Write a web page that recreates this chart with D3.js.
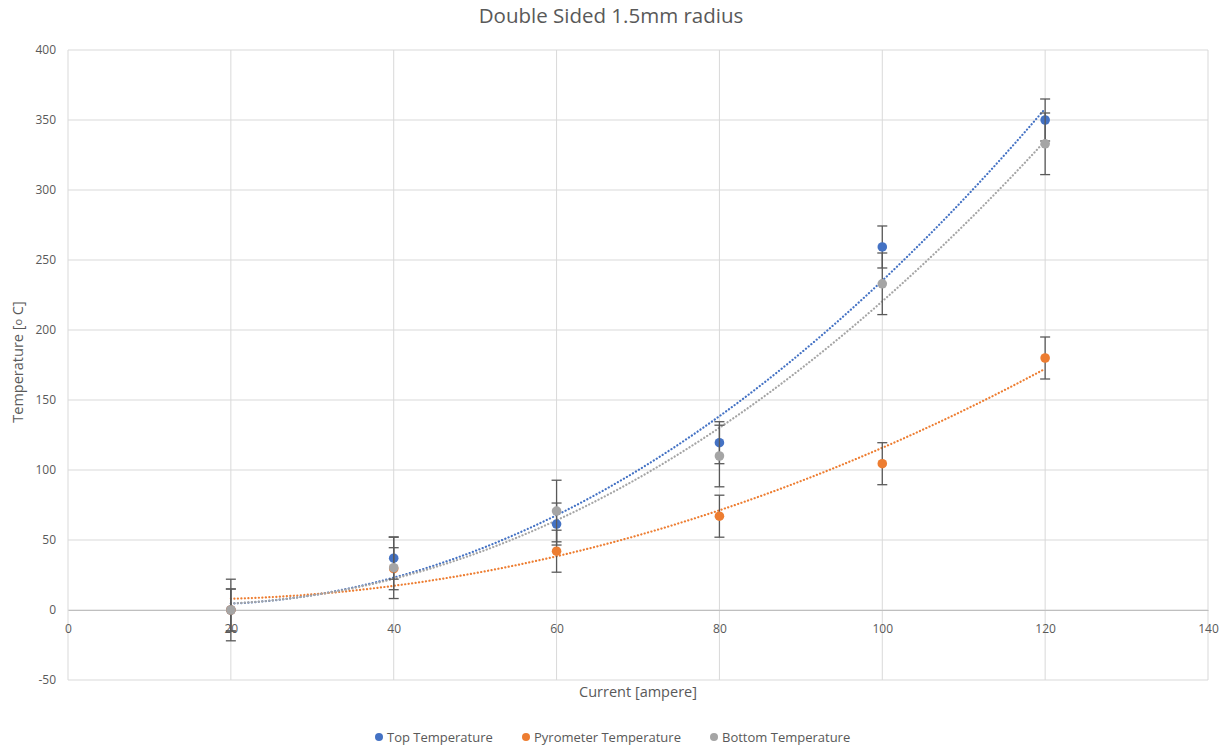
<!DOCTYPE html>
<html>
<head>
<meta charset="utf-8">
<script src="https://cdn.jsdelivr.net/npm/d3@7"></script>
<style>
  html, body { margin: 0; padding: 0; background: #fff; }
  svg { display: block; font-family: "Open Sans", Lato, sans-serif; }
</style>
</head>
<body>
<svg id="chart" width="1225" height="749"></svg>
<script>
// Current steps (A) and measured temperatures (°C)
const currents = [20, 40, 60, 80, 100, 120];
const topTemp = [0, 37, 61.4, 119.5, 259.3, 350];
const pyroTemp = [0, 29.5, 42, 67, 104.5, 180];
const bottomTemp = [0, 30.2, 70.7, 110, 233, 333];
// Fixed error bar half-widths per series
const topErr = 15;
const pyroErr = 15;
const bottomErr = 22;

const xTicks = [0, 20, 40, 60, 80, 100, 120, 140];
const yTicks = [-50, 0, 50, 100, 150, 200, 250, 300, 350, 400];

const series = [
  { name: "Top Temperature", values: topTemp, err: topErr, color: "#4472C4" },
  { name: "Pyrometer Temperature", values: pyroTemp, err: pyroErr, color: "#ED7D31" },
  { name: "Bottom Temperature", values: bottomTemp, err: bottomErr, color: "#A5A5A5" }
];

const svg = d3.select("#chart");
const plot = { left: 68, right: 1208, top: 50, bottom: 680 };

const x = d3.scaleLinear().domain([0, 140]).range([plot.left, plot.right]);
const y = d3.scaleLinear().domain([-50, 400]).range([plot.bottom, plot.top]);

// Least-squares quadratic trendline
function quadFit(xs, ys) {
  const n = xs.length;
  let s = [0, 0, 0, 0, 0], t = [0, 0, 0];
  for (let i = 0; i < n; i++) {
    let p = 1;
    for (let k = 0; k < 5; k++) { s[k] += p; if (k < 3) t[k] += p * ys[i]; p *= xs[i]; }
  }
  const A = [[s[0], s[1], s[2], t[0]], [s[1], s[2], s[3], t[1]], [s[2], s[3], s[4], t[2]]];
  for (let c = 0; c < 3; c++) {
    for (let r = c + 1; r < 3; r++) {
      const f = A[r][c] / A[c][c];
      for (let k = c; k < 4; k++) A[r][k] -= f * A[c][k];
    }
  }
  const coef = [0, 0, 0];
  for (let r = 2; r >= 0; r--) {
    let v = A[r][3];
    for (let k = r + 1; k < 3; k++) v -= A[r][k] * coef[k];
    coef[r] = v / A[r][r];
  }
  return xv => coef[0] + coef[1] * xv + coef[2] * xv * xv;
}

// Gridlines
svg.append("g")
  .selectAll("line")
  .data(yTicks)
  .join("line")
  .attr("x1", plot.left).attr("x2", plot.right)
  .attr("y1", d => y(d)).attr("y2", d => y(d))
  .attr("stroke", "#d9d9d9").attr("stroke-width", 1);

svg.append("g")
  .selectAll("line")
  .data(xTicks)
  .join("line")
  .attr("x1", d => x(d)).attr("x2", d => x(d))
  .attr("y1", plot.top).attr("y2", plot.bottom)
  .attr("stroke", "#d9d9d9").attr("stroke-width", 1);

// Y axis labels
const yAxis = d3.axisLeft(y).tickValues(yTicks).tickSize(0).tickPadding(12).tickFormat(d => String(d));
svg.append("g")
  .attr("transform", `translate(${plot.left},0)`)
  .call(yAxis)
  .call(g => g.select(".domain").remove())
  .call(g => g.selectAll("text").attr("fill", "#595959").style("font-size", "12px").style("font-family", "'Open Sans', sans-serif"));

// X axis at y = 0
const xAxis = d3.axisBottom(x).tickValues(xTicks).tickSize(0).tickPadding(14).tickFormat(d => String(d));
svg.append("g")
  .attr("transform", `translate(0,${y(0)})`)
  .call(xAxis)
  .call(g => g.select(".domain").attr("stroke", "#bfbfbf"))
  .call(g => g.selectAll("text").attr("fill", "#595959").style("font-size", "12px").style("font-family", "'Open Sans', sans-serif"));

// Trendlines
const trendX = d3.range(20, 120.01, 0.5);
series.forEach(s => {
  const f = quadFit(currents, s.values);
  svg.append("path")
    .datum(trendX)
    .attr("fill", "none")
    .attr("stroke", s.color)
    .attr("stroke-width", 2.2)
    .attr("stroke-linecap", "round")
    .attr("stroke-dasharray", "0.1 3.4")
    .attr("d", d3.line().x(d => x(d)).y(d => y(f(d))));
});

// Error bars and points, series by series
series.forEach(s => {
  const g = svg.append("g");
  const pts = currents.map((c, i) => ({ c, v: s.values[i] }));
  g.selectAll("line.eb").data(pts).join("line")
    .attr("x1", d => x(d.c)).attr("x2", d => x(d.c))
    .attr("y1", d => y(d.v + s.err)).attr("y2", d => y(d.v - s.err))
    .attr("stroke", "#595959").attr("stroke-width", 1.3);
  [1, -1].forEach(sign => {
    g.selectAll(null).data(pts).join("line")
      .attr("x1", d => x(d.c) - 5).attr("x2", d => x(d.c) + 5)
      .attr("y1", d => y(d.v + sign * s.err)).attr("y2", d => y(d.v + sign * s.err))
      .attr("stroke", "#595959").attr("stroke-width", 1.3);
  });
  g.selectAll("circle").data(pts).join("circle")
    .attr("cx", d => x(d.c)).attr("cy", d => y(d.v))
    .attr("r", 4.8).attr("fill", s.color);
});

// Title
svg.append("text")
  .attr("x", 611).attr("y", 23)
  .attr("text-anchor", "middle")
  .attr("fill", "#595959")
  .style("font-size", "20.5px")
  .text("Double Sided 1.5mm radius");

// Axis titles
svg.append("text")
  .attr("x", 638).attr("y", 697)
  .attr("text-anchor", "middle")
  .attr("fill", "#595959")
  .style("font-size", "14.5px")
  .text("Current [ampere]");

const yt = svg.append("text")
  .attr("transform", "translate(23,362) rotate(-90)")
  .attr("text-anchor", "middle")
  .attr("fill", "#595959")
  .style("font-size", "14.5px");
yt.append("tspan").text("Temperature [");
yt.append("tspan").style("font-size", "11px").attr("dy", -1).text("o");
yt.append("tspan").attr("dy", 1).text(" C]");

// Legend
const legendX = [379, 526, 714];
const lg = svg.append("g");
series.forEach((s, i) => {
  lg.append("circle").attr("cx", legendX[i]).attr("cy", 737).attr("r", 4).attr("fill", s.color);
  lg.append("text")
    .attr("x", legendX[i] + 8).attr("y", 742)
    .attr("fill", "#595959")
    .style("font-size", "13px")
    .text(s.name);
});
</script>
</body>
</html>
